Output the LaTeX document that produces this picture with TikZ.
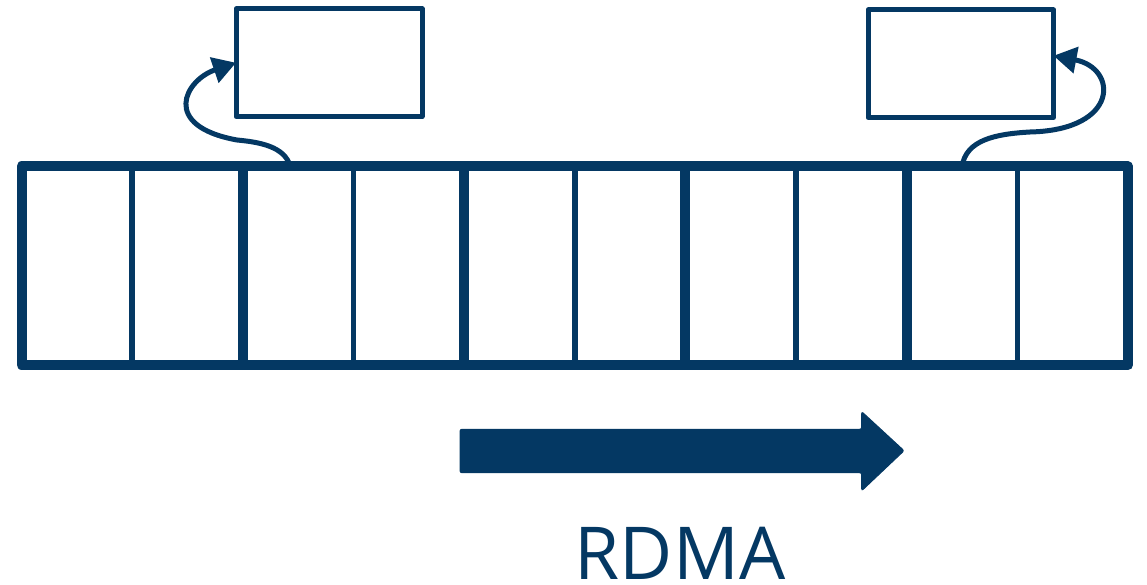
\documentclass[tikz,border=0pt]{standalone}
\usepackage{fontspec}
\setmainfont{Open Sans}
\usetikzlibrary{arrows.meta,calc}
\definecolor{navy}{RGB}{4,56,99}
\begin{document}
\begin{tikzpicture}[x=1pt,y=-1pt,
  cellbox/.style={draw=navy,line width=5.5pt,minimum width=110.65pt,minimum height=198.5pt,inner sep=0pt,outer sep=0pt},
  groupbox/.style={draw=navy,line width=10pt,line join=round,minimum width=221.3pt,minimum height=198.5pt,inner sep=0pt,outer sep=0pt},
  topbox/.style={draw=navy,line width=5pt,line join=round,minimum width=186pt,minimum height=107.5pt,inner sep=0pt,outer sep=0pt},
  curvearrow/.style={draw=navy,line width=5pt,-{Triangle[length=23pt,width=26pt]}},
  bigarrow/.style={fill=navy,draw=navy,line width=1pt,rounded corners=2pt}]
\useasboundingbox (0,0) rectangle (1147,585);
% cells
\foreach \i in {1,...,10}{
  \node[cellbox] (c\i) at ({21.5+110.65*(\i-0.5)},265.75) {};
}
% groups of two cells
\foreach \j in {1,...,5}{
  \node[groupbox] (g\j) at ({21.5+221.3*(\j-0.5)},265.75) {};
}
% boxes above
\node[topbox] (b1) at (329,62.75) {};
\node[topbox,minimum width=185.5pt] (b2) at (960.75,63.75) {};
% curved arrows
\coordinate (m1) at (237,140);
\coordinate (m2) at (1030,132);
\draw[curvearrow] ([xshift=-8pt]c3.north) .. controls (285,146) and (258,142) .. (m1)
   .. controls (160,126) and (185,80) .. (b1.west);
\draw[curvearrow] (c9.north) .. controls (966,140) and (995,134) .. (m2)
   .. controls (1120,130) and (1118,68) .. ([yshift=8pt]b2.east);
% big arrow
\path[bigarrow] (460,429.3) -- (861.7,429.3) -- (861.7,411.7) -- (904,450.7)
   -- (861.7,490.7) -- (861.7,472.7) -- (460,472.7) -- cycle;
% label
\node[anchor=base,text=navy,inner sep=0pt,font=\fontsize{73}{80}\selectfont] (lbl) at (680,579) {RDMA};
\end{tikzpicture}
\end{document}
